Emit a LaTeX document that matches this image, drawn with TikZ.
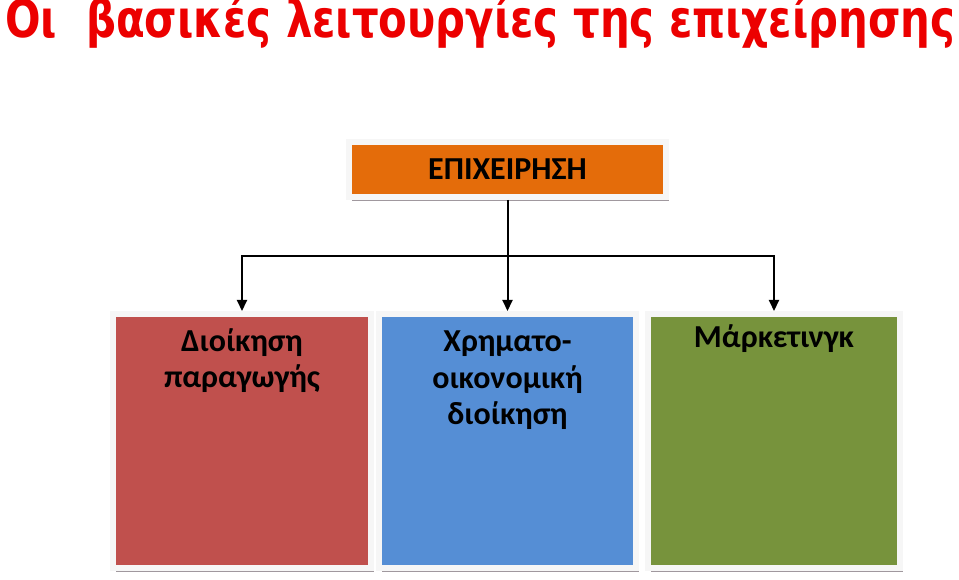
\documentclass[tikz,border=0pt]{standalone}
\usepackage{fontspec}
\usepackage{graphicx}
\setmainfont{Carlito}
\newfontfamily\titlefont{DejaVu Sans}
\usetikzlibrary{arrows.meta,calc}
\definecolor{titlered}{RGB}{236,0,0}
\definecolor{boxorange}{HTML}{E46C0A}
\definecolor{boxred}{HTML}{C0504D}
\definecolor{boxblue}{HTML}{558ED5}
\definecolor{boxgreen}{HTML}{77933C}
\definecolor{framec}{RGB}{246,246,246}
\definecolor{shadowc}{RGB}{160,152,158}
\tikzset{
  framedbox/.style={draw=framec, line width=6pt, minimum width=#1, inner sep=0pt, rectangle},
  boxtext/.style={font=\bfseries\fontsize{32}{36.5}\selectfont, align=center, anchor=north, inner sep=0pt, text=black},
  conn/.style={line width=2pt, draw=black},
  arr/.style={conn, -{Triangle[width=10pt,length=11pt]}},
}
\newcommand{\boxshadow}[1]{%
  \fill[shadowc] ($(#1.south west)+(3,4)$) rectangle ($(#1.north east)+(3,4)$);}
\begin{document}
\begin{tikzpicture}[x=1pt,y=-1pt]
\useasboundingbox (0,0) rectangle (959,580);
% title
\node[anchor=base west, inner sep=0pt, text=titlered, font=\titlefont\bfseries\fontsize{52}{56}\selectfont] (title) at (5,38) {\resizebox{950pt}{\height}{Οι\ \ βασικές λειτουργίες της επιχείρησης}};
% top box
\path (507.5,169.5) node[framedbox=317pt, minimum height=55pt, outer sep=0pt] (ep0) {};
\boxshadow{ep0}
\node[framedbox=317pt, minimum height=55pt, fill=boxorange] (ep) at (507.5,169.5) {};
\node[font=\bfseries\fontsize{32}{36}\selectfont, anchor=base, inner sep=0pt] (eptext) at (507.5,180) {ΕΠΙΧΕΙΡΗΣΗ};
% bottom boxes
\path (242,441) node[framedbox=258pt, minimum height=254pt, outer sep=0pt] (r0) {};
\path (507.5,441) node[framedbox=257pt, minimum height=254pt, outer sep=0pt] (b0) {};
\path (774,441) node[framedbox=252pt, minimum height=254pt, outer sep=0pt] (g0) {};
\boxshadow{r0}
\boxshadow{b0}
\boxshadow{g0}
\node[framedbox=258pt, minimum height=254pt, fill=boxred] (r) at (242,441) {};
\node[framedbox=257pt, minimum height=254pt, fill=boxblue] (b) at (507.5,441) {};
\node[framedbox=252pt, minimum height=254pt, fill=boxgreen] (g) at (774,441) {};
\node[boxtext] (rt) at (242,325.5) {\strut Διοίκηση\\παραγωγής};
\node[boxtext] (bt) at (507.5,326) {\strut Χρηματο-\\οικονομική\\διοίκηση};
\node[boxtext] (gt) at (774,321.5) {\strut Μάρκετινγκ};
% connectors
\coordinate (j) at (507.5,256);
\draw[conn] (ep.south) -- (j);
\draw[arr] (j) -| (r.north);
\draw[arr] (j) -- (b.north);
\draw[arr] (j) -| (g.north);
\end{tikzpicture}
\end{document}
